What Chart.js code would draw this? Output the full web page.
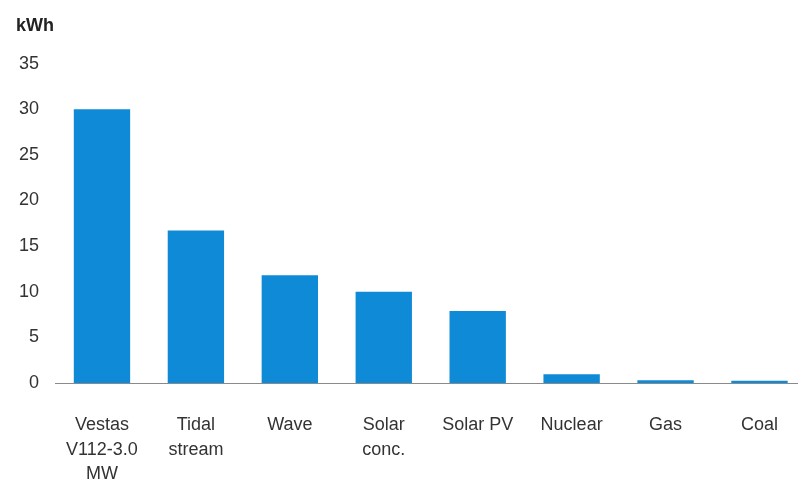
<!DOCTYPE html>
<html>
<head>
<meta charset="utf-8">
<script src="https://cdn.jsdelivr.net/npm/chart.js@4.4.1/dist/chart.umd.min.js"></script>
<style>
    html, body { margin: 0; padding: 0; background: #fff; overflow: hidden; }
    #grafico { display: block; }
</style>
</head>
<body>
<canvas id="grafico" width="808" height="481" style="width:808px;height:481px"></canvas>
<script>
const categorias = [
    ['Vestas', 'V112-3.0', 'MW'],
    ['Tidal', 'stream'],
    'Wave',
    ['Solar', 'conc.'],
    'Solar PV',
    'Nuclear',
    'Gas',
    'Coal'
];
const valores = [30, 16.7, 11.8, 10, 7.9, 0.95, 0.3, 0.25];
const ejeY = { min: 0, max: 35, paso: 5 };
const unidad = 'kWh';

const fuente = "'Liberation Sans', Arial, sans-serif";

const ctx = document.getElementById('grafico').getContext('2d');

new Chart(ctx, {
    type: 'bar',
    data: {
        labels: categorias,
        datasets: [{
            data: valores,
            backgroundColor: '#0f8ad6',
            borderWidth: 0,
            categoryPercentage: 1,
            barPercentage: 0.6
        }]
    },
    options: {
        responsive: false,
        devicePixelRatio: 1,
        animation: false,
        layout: { padding: { left: 16, right: 0, top: 0, bottom: 0 } },
        scales: {
            x: {
                grid: { display: false, drawTicks: false },
                border: { display: true, color: '#8a8a8a', width: 1 },
                ticks: {
                    color: '#333',
                    font: { family: fuente, size: 18, lineHeight: 1.36 },
                    padding: 30,
                    maxRotation: 0,
                    autoSkip: false
                },
                afterFit: (scale) => { scale.height = 98; }
            },
            y: {
                min: ejeY.min,
                max: ejeY.max,
                grid: { display: false, drawTicks: false },
                border: { display: false },
                ticks: {
                    stepSize: ejeY.paso,
                    color: '#333',
                    font: { family: fuente, size: 18 },
                    padding: 16
                },
                afterFit: (scale) => { scale.width = 39; }
            }
        },
        plugins: {
            legend: { display: false },
            tooltip: { enabled: false },
            title: {
                display: true,
                text: unidad,
                align: 'start',
                color: '#222',
                font: { family: fuente, size: 18, weight: 'bold', lineHeight: 1.2 },
                padding: { top: 15, bottom: 27 }
            }
        }
    }
});
</script>
</body>
</html>
